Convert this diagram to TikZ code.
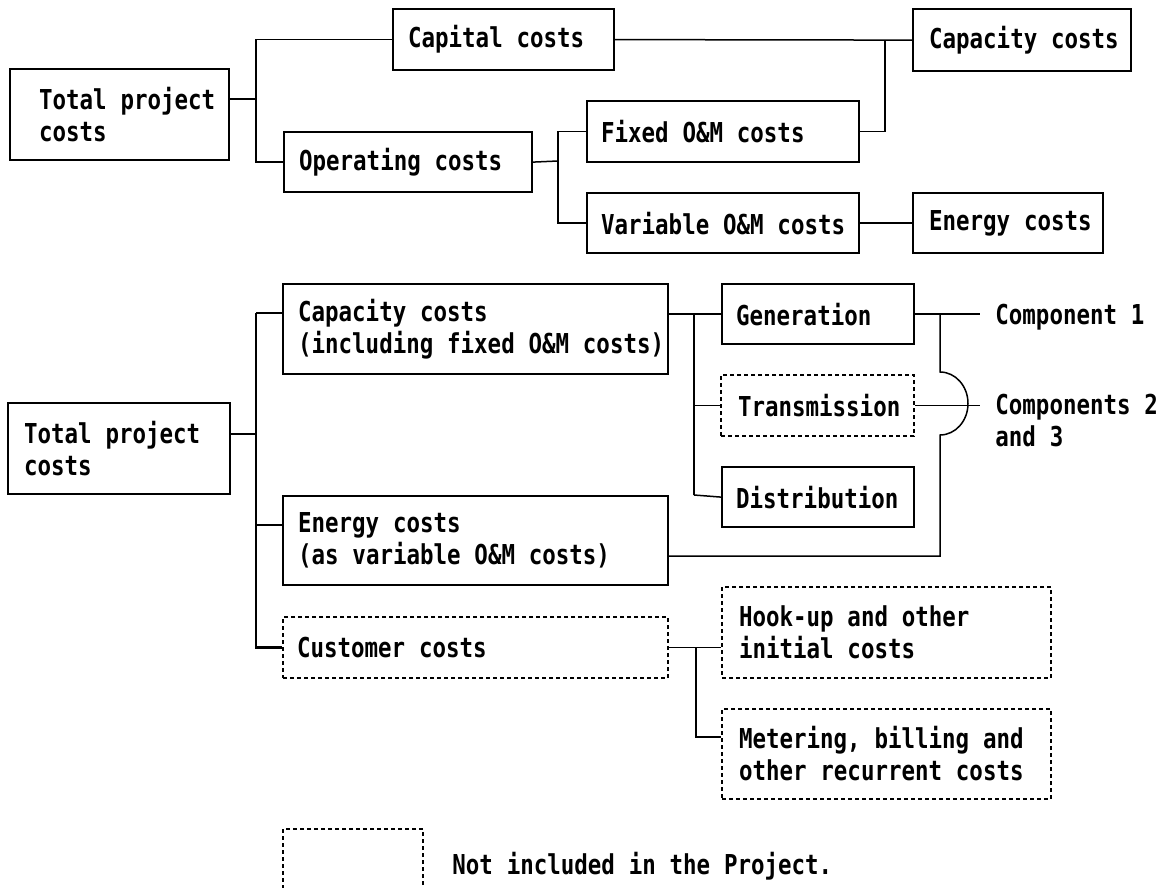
\documentclass[tikz,border=0pt]{standalone}
\usepackage{fontspec}
\newfontfamily\dotfont{DejaVu Sans Mono}[FakeStretch=0.82]
\newlength\wsp
\setlength\wsp{6.9pt}
\tikzset{
  lbl/.style={font=\dotfont\bfseries\fontsize{13.7pt}{16pt}\selectfont, inner sep=0pt,
     execute at begin node={\spaceskip=\wsp\relax}},
  box/.style={lbl, draw, line width=1.1pt, anchor=north west, inner xsep=2pt, inner ysep=0pt, align=left},
  dbox/.style={box, line width=1pt, dash pattern=on 2pt off 1.5pt},
  sz/.style n args={3}{minimum width=#1, minimum height=#2, text width=#1-4pt,
     execute at begin node={\leftskip=#3\relax\rightskip=0pt plus 1fil minus 15pt\relax\spaceskip=\wsp\relax}},
  conn/.style={line width=0.75pt},
  fork/.style={line width=1.4pt},
}
\begin{document}
\begin{tikzpicture}[x=0.5pt, y=-0.5pt]
\useasboundingbox (0,0) rectangle (1168,888);
% ---------- top chart ----------
\node[box, sz={109.5pt}{45.5pt}{12.5pt}] (tpc1) at (9,68) {Total project\\costs};
\node[box, sz={110.5pt}{30.5pt}{5.5pt}] (cap) at (392,8) {Capital costs};
\node[box, sz={124pt}{30pt}{5.5pt}] (opr) at (283,131) {Operating costs};
\node[box, sz={136pt}{30.5pt}{5pt}] (fix) at (586,100) {Fixed O\&M costs};
\node[box, sz={136pt}{30pt}{5pt}] (var) at (586,192) {Variable O\&M costs};
\node[box, sz={109pt}{31pt}{6pt}] (capy) at (912,8) {Capacity costs};
\node[box, sz={95pt}{30pt}{6pt}] (en) at (912,192) {Energy costs};

\coordinate (j1) at (256,99);
\coordinate (j2) at (558,161);
\coordinate (j3) at (885,0);
\draw[conn] (tpc1.east |- j1) -- (j1);
\draw[conn] (cap.west) -| (j1) |- (opr.west);
\draw[conn] (opr.east) -- (j2);
\draw[conn] (fix.west) -| (j2) |- (var.west);
\draw[conn] (cap.east) -- (capy.west);
\draw[conn] (fix.east) -| (j3 |- cap.east);
\draw[conn] (var.east) -- (en.west);

% ---------- bottom chart ----------
\node[box, sz={111pt}{45.5pt}{6pt}] (tpc2) at (7,402) {Total project\\costs};
\node[box, sz={192.5pt}{45pt}{5.5pt}] (capb) at (282,283) {Capacity costs\\(including fixed O\&M costs)};
\node[box, sz={192.5pt}{44.5pt}{5.5pt}] (enb) at (282,495) {Energy costs\\(as variable O\&M costs)};
\node[dbox, sz={192.5pt}{30.5pt}{5pt}] (cus) at (282,616) {Customer costs};
\node[box, sz={96pt}{30pt}{5pt}] (gen) at (721,283) {Generation};
\node[dbox, sz={96.5pt}{30.5pt}{6.5pt}] (tra) at (720,374) {Transmission};
\node[box, sz={96pt}{30pt}{5pt}] (dis) at (721,466) {Distribution};
\node[dbox, sz={164.5pt}{45.5pt}{6.5pt}] (hook) at (721,586) {Hook-up and other\\initial costs};
\node[dbox, sz={164.5pt}{45pt}{6.5pt}] (met) at (721,708) {Metering, billing and\\other recurrent costs};

\node[lbl, anchor=north west, inner xsep=7.5pt] (c1) at (980,304) {Component 1};
\node[lbl, anchor=north west, inner xsep=7.5pt, align=left] (c2) at (980,394) {Components 2\\and 3};

% legend
\node[dbox, anchor=north west, minimum width=70pt, minimum height=35pt] (legend) at (282,828) {};
\node[lbl, anchor=north west] (note) at (452,852) {Not included in the Project.};

\coordinate (k0) at (256,313);
\coordinate (k1) at (256,434);
\coordinate (k2) at (256,525);
\coordinate (k3) at (694,313);
\coordinate (k4) at (694,495);
\coordinate (k5) at (696,648);
\coordinate (k6) at (696,737);
\coordinate (m1) at (940,313);
\coordinate (m2) at (940,372);
\coordinate (m3) at (940,556);

\draw[conn] (tpc2.east |- k1) -- (k1);
\draw[fork] (k0) |- (cus.west);
\draw[conn] (k0) -- (k0 -| capb.west);
\draw[conn] (k2) -- (k2 -| enb.west);

\draw[conn] (capb.east |- gen.west) -- (gen.west);
\draw[fork] (k3) -- (k4);
\draw[conn] (k3 |- tra.west) -- (tra.west);
\draw[conn] (k4) -- (dis.west);

\draw[conn] (gen.east) -- (gen.east -| c1.west);
\draw[conn] (tra.east) -- (tra.east -| c2.west);
\draw[conn] (m1) -- (m2) arc[start angle=90, end angle=-90, x radius=14pt, y radius=15.75pt] -- (m3) -- (m3 -| enb.east);

\draw[conn] (cus.east) -- (cus.east -| hook.west);
\draw[fork] (cus.east -| k5) |- (met.west |- k6);
\draw[conn] (k6) -- (met.west |- k6);
\end{tikzpicture}
\end{document}
